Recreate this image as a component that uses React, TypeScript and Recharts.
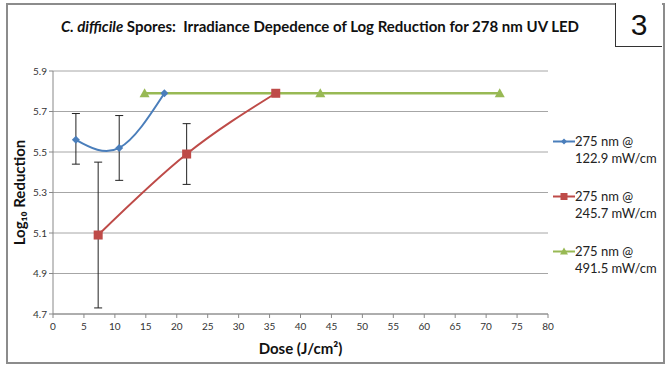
import React from "react";
import { CartesianGrid, ErrorBar, Line, LineChart, XAxis, YAxis } from "recharts";

const seriesNames = ["275 nm @ 122.9 mW/cm", "275 nm @ 245.7 mW/cm", "275 nm @ 491.5 mW/cm"];
const seriesColors = ["#4A7EBB", "#BE4B48", "#98B954"];

const blueDose = [3.7, 10.7, 18.0];
const blueLog = [5.56, 5.52, 5.79];
const blueErr: ([number, number] | null)[] = [[0.12, 0.13], [0.16, 0.16], null];

const redDose = [7.3, 21.6, 36.0];
const redLog = [5.09, 5.49, 5.79];
const redErr: ([number, number] | null)[] = [[0.36, 0.36], [0.15, 0.15], null];

const greenDose = [14.8, 43.2, 72.2];
const greenLog = [5.79, 5.79, 5.79];

const xTicks = [0, 5, 10, 15, 20, 25, 30, 35, 40, 45, 50, 55, 60, 65, 70, 75, 80];
const yTicks = [4.7, 4.9, 5.1, 5.3, 5.5, 5.7, 5.9];

const build = (xs: number[], ys: number[], errs?: ([number, number] | null)[]) =>
  xs.map((x, i) => ({ dose: x, log: ys[i], err: errs ? errs[i] : null }));

const blueData = build(blueDose, blueLog, blueErr);
const redData = build(redDose, redLog, redErr);
const greenData = build(greenDose, greenLog);

const font = "Lato, 'Open Sans', sans-serif";

const Diamond = (props: any) => {
  const { cx, cy } = props;
  if (cx == null || cy == null) return null;
  return <path d={`M${cx},${cy - 4}L${cx + 4},${cy}L${cx},${cy + 4}L${cx - 4},${cy}Z`} fill={seriesColors[0]} />;
};
const Square = (props: any) => {
  const { cx, cy } = props;
  if (cx == null || cy == null) return null;
  return <rect x={cx - 4.5} y={cy - 4.5} width={9} height={9} fill={seriesColors[1]} />;
};
const Triangle = (props: any) => {
  const { cx, cy } = props;
  if (cx == null || cy == null) return null;
  return <path d={`M${cx},${cy - 5}L${cx + 5},${cy + 4}L${cx - 5},${cy + 4}Z`} fill={seriesColors[2]} />;
};

const markers = [
  (x: number, y: number) => <path d={`M${x},${y - 3}L${x + 3},${y}L${x},${y + 3}L${x - 3},${y}Z`} fill={seriesColors[0]} />,
  (x: number, y: number) => <rect x={x - 3.5} y={y - 3.5} width={7} height={7} fill={seriesColors[1]} />,
  (x: number, y: number) => <path d={`M${x},${y - 4}L${x + 4},${y + 3}L${x - 4},${y + 3}Z`} fill={seriesColors[2]} />,
];

const LegendBox = () => (
  <div style={{ fontFamily: font, fontSize: 13, color: "#222", lineHeight: "17px" }}>
    {seriesNames.map((name, i) => {
      const [a, b] = name.split(" @ ");
      return (
        <div key={name} style={{ display: "flex", alignItems: "flex-start", marginBottom: i < 2 ? 21 : 0 }}>
          <svg width={22} height={17} style={{ flexShrink: 0 }}>
            <line x1={0} y1={8.5} x2={22} y2={8.5} stroke={seriesColors[i]} strokeWidth={2} />
            {markers[i](11, 8.5)}
          </svg>
          <div>
            <div>{a} @</div>
            <div>{b}</div>
          </div>
        </div>
      );
    })}
  </div>
);

export default function App() {
  return (
    <div style={{ position: "absolute", left: 0, top: 0, width: 668, height: 368, background: "#fff" }}>
      <div style={{ position: "absolute", left: 6, top: 3, width: 655, height: 357, border: "2px solid #8c8c8c", boxSizing: "content-box" }} />
      <div
        style={{
          position: "absolute", left: 615, top: 3, width: 46, height: 43, borderLeft: "1px solid #333",
          borderBottom: "1px solid #333", background: "#fff", fontFamily: "'Liberation Sans', Arial, sans-serif",
          fontSize: 30, display: "flex", alignItems: "center", justifyContent: "center", color: "#111",
        }}
      >
        3
      </div>
      <div style={{ position: "absolute", left: 0, top: 17, width: 640, textAlign: "center", fontFamily: font, fontSize: 15, fontWeight: 700, color: "#111" }}>
        <i>C. difficile</i> Spores:&nbsp; Irradiance Depedence of Log Reduction for 278 nm UV LED
      </div>
      <div style={{ position: "absolute", left: 0, top: 0 }}>
        <LineChart width={668} height={368} margin={{ top: 71, right: 120, bottom: 0, left: 0 }}>
          <CartesianGrid vertical={false} stroke="#a6a6a6" strokeWidth={1} />
          <XAxis
            type="number"
            dataKey="dose"
            domain={[0, 80]}
            ticks={xTicks}
            interval={0}
            tickLine={{ stroke: "#888" }}
            tickSize={4}
            axisLine={{ stroke: "#888" }}
            tick={{ fontSize: 10, fill: "#333", fontFamily: font }}
            tickMargin={5}
            label={{ value: "Dose (J/cm²)", position: "insideBottom", offset: 14, style: { fontSize: 15, fontWeight: 700, fill: "#111", fontFamily: font } }}
            height={54}
          />
          <YAxis
            type="number"
            domain={[4.7, 5.9]}
            ticks={yTicks}
            interval={0}
            width={53}
            tickLine={{ stroke: "#888" }}
            tickSize={4}
            axisLine={{ stroke: "#888" }}
            tick={{ fontSize: 10, fill: "#333", fontFamily: font }}
            tickFormatter={(v: number) => v.toFixed(1)}
            label={{ value: "Log₁₀ Reduction", angle: -90, position: "insideLeft", offset: 20, style: { fontSize: 15, fontWeight: 700, fill: "#111", fontFamily: font, textAnchor: "middle" } }}
          />
          <Line
            data={greenData}
            dataKey="log"
            name={seriesNames[2]}
            stroke={seriesColors[2]}
            strokeWidth={2.5}
            type="linear"
            dot={<Triangle />}
            isAnimationActive={false}
          />
          <Line
            data={redData}
            dataKey="log"
            name={seriesNames[1]}
            stroke={seriesColors[1]}
            strokeWidth={2}
            type="monotone"
            dot={<Square />}
            isAnimationActive={false}
          >
            <ErrorBar dataKey="err" direction="y" width={4} stroke="#222" strokeWidth={1} isAnimationActive={false} />
          </Line>
          <Line
            data={blueData}
            dataKey="log"
            name={seriesNames[0]}
            stroke={seriesColors[0]}
            strokeWidth={2}
            type="natural"
            dot={<Diamond />}
            isAnimationActive={false}
          >
            <ErrorBar dataKey="err" direction="y" width={4} stroke="#222" strokeWidth={1} isAnimationActive={false} />
          </Line>
        </LineChart>
      </div>
      <div style={{ position: "absolute", left: 553, top: 133, width: 115 }}>
        <LegendBox />
      </div>
    </div>
  );
}
